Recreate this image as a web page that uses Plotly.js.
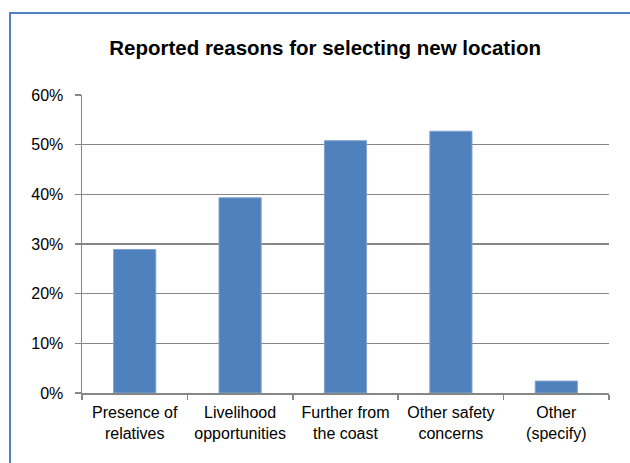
<!DOCTYPE html>
<html>
<head>
<meta charset="utf-8">
<script src="https://cdn.plot.ly/plotly-3.0.1.min.js"></script>
<style>
  html, body { margin: 0; padding: 0; background: #ffffff; }
  #frame { position: absolute; left: 9px; top: 12px; width: 621px; height: 451px;
           border-top: 2px solid #4F81BD; border-left: 2px solid #4F81BD; box-sizing: border-box; }
  #chart { position: absolute; left: 0; top: 0; width: 630px; height: 463px; }
</style>
</head>
<body>
<div id="frame"></div>
<div id="chart"></div>
<script>
const categories = ["Presence of<br>relatives", "Livelihood<br>opportunities", "Further from<br>the coast", "Other safety<br>concerns", "Other<br>(specify)"];
const shares = [0.289, 0.393, 0.508, 0.527, 0.024];
const yTickValues = [0, 0.1, 0.2, 0.3, 0.4, 0.5, 0.6];
const yTickLabels = ["0%", "10%", "20%", "30%", "40%", "50%", "60%"];

const font = "'Liberation Sans Narrow', 'Arial Narrow', 'Liberation Sans', Arial, sans-serif";

const data = [{
  type: "bar",
  x: categories,
  y: shares,
  marker: { color: "#4F81BD", line: { color: "#7FA3D1", width: 1 } },
  hoverinfo: "skip"
}];

const layout = {
  width: 630, height: 463,
  margin: { l: 82, r: 21, t: 95, b: 70, pad: 0 },
  paper_bgcolor: "rgba(0,0,0,0)",
  plot_bgcolor: "rgba(0,0,0,0)",
  bargap: 0.6,
  showlegend: false,
  title: {
    text: "<b>Reported reasons for selecting new location</b>",
    font: { family: font, size: 20.5, color: "#000000" },
    x: 0.516, xanchor: "center", y: 0.897, yanchor: "middle"
  },
  xaxis: {
    type: "category",
    showline: true, linecolor: "#868686", linewidth: 1.5,
    ticks: "outside", tickson: "boundaries", ticklen: 5, tickcolor: "#868686", tickwidth: 1.5,
    showgrid: false,
    tickangle: 0,
    tickfont: { family: font, size: 16, color: "#000000" },
    ticklabelstandoff: 4,
    fixedrange: true
  },
  yaxis: {
    range: [0, 0.6],
    tickvals: yTickValues, ticktext: yTickLabels,
    showline: true, linecolor: "#868686", linewidth: 1.5,
    ticks: "outside", ticklen: 6, tickcolor: "#868686", tickwidth: 1.5,
    showgrid: true, gridcolor: "#868686", gridwidth: 1.5,
    zeroline: false,
    tickfont: { family: font, size: 16, color: "#000000" },
    ticklabelstandoff: 8,
    fixedrange: true
  }
};

Plotly.newPlot("chart", data, layout, { staticPlot: true, displayModeBar: false });
</script>
</body>
</html>
